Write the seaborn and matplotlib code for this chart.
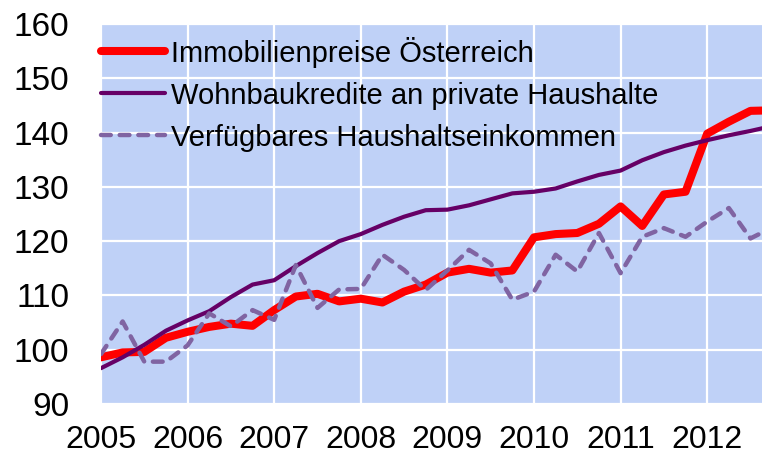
import numpy as np
import pandas as pd
import seaborn as sns
import matplotlib.pyplot as plt

# quarterly values, 2005 Q1 .. 2012 Q4
quarters = [2005 + i * 0.25 for i in range(32)]

immobilienpreise = [98.6, 99.5, 99.6, 102.2, 103.3, 104.2, 104.8, 104.4,
                    107.3, 109.8, 110.3, 108.9, 109.4, 108.7, 110.7, 112.0,
                    114.2, 114.9, 114.2, 114.6, 120.7, 121.3, 121.5, 123.2,
                    126.4, 122.8, 128.6, 129.1, 139.8, 142.0, 144.0, 144.1]

wohnbaukredite = [96.6, 98.6, 100.9, 103.5, 105.4, 107.1, 109.7, 112.0,
                  112.8, 115.4, 117.8, 120.0, 121.3, 123.0, 124.5, 125.7,
                  125.8, 126.6, 127.7, 128.8, 129.1, 129.7, 131.0, 132.2,
                  133.0, 134.9, 136.4, 137.6, 138.6, 139.5, 140.3, 141.2]

einkommen = [99.2, 105.2, 97.8, 97.8, 100.8, 106.7, 104.3, 107.3,
             105.5, 115.6, 107.7, 111.1, 111.2, 117.5, 114.7, 111.0,
             114.6, 118.4, 115.9, 109.2, 110.7, 117.5, 114.4, 121.5,
             114.1, 120.8, 122.4, 120.8, 123.6, 126.1, 120.5, 122.5]

labels = ['Immobilienpreise Österreich',
          'Wohnbaukredite an private Haushalte',
          'Verfügbares Haushaltseinkommen']
year_ticks = list(range(2005, 2013))
value_ticks = list(range(90, 161, 10))

df = pd.DataFrame({'quarter': quarters,
                   labels[0]: immobilienpreise,
                   labels[1]: wohnbaukredite,
                   labels[2]: einkommen})

sns.set_style('darkgrid', {'axes.facecolor': '#BFD1F7', 'grid.color': 'white',
                           'text.color': 'black', 'xtick.color': 'black',
                           'ytick.color': 'black'})
plt.rcParams['font.family'] = ['Liberation Sans', 'DejaVu Sans']

fig = plt.figure(figsize=(7.62, 4.57), dpi=100)
ax = fig.add_axes([101 / 762, 53 / 457, 661 / 762, 380 / 457])

dash = [2.2, 2.0]
sns.lineplot(data=df, x='quarter', y=labels[0], ax=ax, color='#FF0000',
             linewidth=5.8, label=labels[0], solid_capstyle='round')
sns.lineplot(data=df, x='quarter', y=labels[1], ax=ax, color='#660066',
             linewidth=3.0, label=labels[1], solid_capstyle='round')
sns.lineplot(data=df, x='quarter', y=labels[2], ax=ax, color='#8064A2',
             linewidth=3.2, label=labels[2])
ax.lines[2].set_dashes(dash)
ax.lines[2].set_dash_capstyle('round')

ax.set_xlim(2005, 2012.633)
ax.set_ylim(90, 160)
ax.set_xticks(year_ticks)
ax.set_yticks(value_ticks)
ax.set_xlabel('')
ax.set_ylabel('')
ax.grid(True, color='white', linewidth=1.6)
for s in ax.spines.values():
    s.set_visible(False)
ax.tick_params(axis='x', length=0, pad=15, labelsize=23, labelcolor='black')
ax.tick_params(axis='y', length=0, pad=23, labelsize=24, labelcolor='black')

leg = ax.legend(loc='upper left', bbox_to_anchor=(0, 0.967), frameon=False,
                fontsize=21, handlelength=2.2, handletextpad=0.2,
                labelspacing=0.48, borderaxespad=0, borderpad=0)
for t in leg.get_texts():
    t.set_color('black')
leg.get_lines()[2].set_dashes(dash)
leg.get_lines()[2].set_dash_capstyle('round')

fig.savefig('out.png', dpi=100)
